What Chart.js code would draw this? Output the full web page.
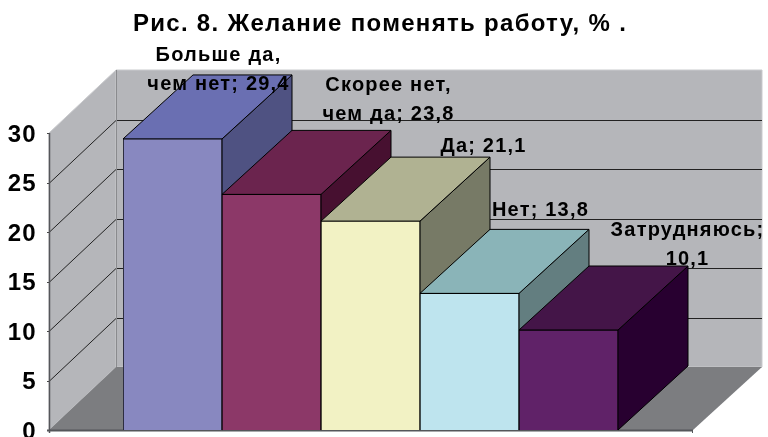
<!DOCTYPE html>
<html>
<head>
<meta charset="utf-8">
<script src="https://cdn.jsdelivr.net/npm/chart.js@4"></script>
<style>
  html, body { margin: 0; padding: 0; background: #fff; }
  canvas { display: block; }
</style>
</head>
<body>
<canvas id="myChart" width="768" height="437"></canvas>
<script>
const categories = ['Больше да, чем нет', 'Скорее нет, чем да', 'Да', 'Нет', 'Затрудняюсь'];
const values = [29.4, 23.8, 21.1, 13.8, 10.1];
const valueLabels = ['29,4', '23,8', '21,1', '13,8', '10,1'];
const titleText = 'Рис. 8. Желание поменять работу, % .';

const frontColors = ['#8888c0', '#8c3868', '#f2f2c4', '#bee4ee', '#602268'];
const topColors = ['#6a6fb2', '#6b244e', '#b0b292', '#8ab4b8', '#441548'];
const sideColors = ['#4f5282', '#471030', '#777a66', '#637e80', '#280030'];

// where each label sits: centre x from the bar centre, last line y from the bar top
const labelOffsets = [[46, -54], [117, -80], [113, -75], [71, -83], [119, -71]];
// how the category and value wrap in the picture
const labelLines = [
  ['Больше да,', 'чем нет; ' + valueLabels[0]],
  ['Скорее нет,', 'чем да; ' + valueLabels[1]],
  [categories[2] + '; ' + valueLabels[2]],
  [categories[3] + '; ' + valueLabels[3]],
  [categories[4] + ';', valueLabels[4]],
];

const wallDepth = { x: 67, y: -63 };
const barDepth = { x: 70, y: -64 };

const poly = (ctx, pts, fill, stroke, lw) => {
  ctx.beginPath();
  pts.forEach((p, i) => (i ? ctx.lineTo(p[0], p[1]) : ctx.moveTo(p[0], p[1])));
  ctx.closePath();
  if (fill) {
    ctx.fillStyle = fill;
    ctx.fill();
  }
  if (stroke) {
    ctx.strokeStyle = stroke;
    ctx.lineWidth = lw || 1;
    ctx.stroke();
  }
};

const line = (ctx, x1, y1, x2, y2, color, lw) => {
  ctx.beginPath();
  ctx.moveTo(x1, y1);
  ctx.lineTo(x2, y2);
  ctx.strokeStyle = color;
  ctx.lineWidth = lw || 1;
  ctx.stroke();
};

// walls, floor and the top and side faces; the fronts are the real bars
const box3d = {
  id: 'box3d',
  beforeDraw(chart) {
    chart.ctx.letterSpacing = '1.3px';
  },
  beforeDatasetsDraw(chart) {
    const { ctx, scales: { x, y } } = chart;
    const y0 = y.getPixelForValue(0);
    const y30 = y.getPixelForValue(30);
    const left = x.left - 74;
    const right = x.right + 75;
    const backLeft = left + wallDepth.x;
    const backRight = right + 69;

    ctx.save();
    poly(ctx, [[backLeft, y30 + wallDepth.y], [backRight, y30 + wallDepth.y], [backRight, y0 + wallDepth.y], [backLeft, y0 + wallDepth.y]], '#b5b6ba', '#c9cacd');
    poly(ctx, [[left, y30], [backLeft, y30 + wallDepth.y], [backLeft, y0 + wallDepth.y], [left, y0]], '#b5b6ba', '#c9cacd');
    poly(ctx, [[left, y0], [right, y0], [backRight, y0 + wallDepth.y], [backLeft, y0 + wallDepth.y]], '#7c7d80');

    y.ticks.forEach((t) => {
      if (t.value === 0) return;
      const py = Math.round(y.getPixelForValue(t.value)) + 0.5;
      if (t.value < 30) {
        line(ctx, left, py, backLeft, py + wallDepth.y, '#222');
        line(ctx, backLeft, py + wallDepth.y, backRight, py + wallDepth.y, '#222');
      }
      line(ctx, left - 2, py, left, py, '#444');
    });
    line(ctx, backLeft + 0.5, y30 + wallDepth.y, backLeft + 0.5, y0 + wallDepth.y, '#8a8b8e');
    line(ctx, left + 0.5, y30, left + 0.5, y0 + 3, '#55565a', 1.5);
    line(ctx, left - 2, y0 + 0.5, right, y0 + 0.5, '#55565a', 2);
    line(ctx, right - 0.5, y0, right - 0.5, y0 + 3, '#55565a');

    chart.getDatasetMeta(0).data.forEach((bar, i) => {
      const l = bar.x - bar.width / 2;
      const r = bar.x + bar.width / 2;
      const t = bar.y;
      const dx = barDepth.x;
      const dy = barDepth.y;
      poly(ctx, [[r, t], [r + dx, t + dy], [r + dx, y0 + dy], [r, y0]], sideColors[i], '#000');
      poly(ctx, [[l, t], [r, t], [r + dx, t + dy], [l + dx, t + dy]], topColors[i], '#000');
    });
    ctx.restore();
  },
  afterDatasetsDraw(chart) {
    const { ctx } = chart;
    ctx.save();
    ctx.font = 'bold 20px "Liberation Sans"';
    ctx.letterSpacing = '1.2px';
    ctx.fillStyle = '#000';
    ctx.textAlign = 'center';
    ctx.textBaseline = 'middle';
    chart.getDatasetMeta(0).data.forEach((bar, i) => {
      const lines = labelLines[i];
      lines.forEach((text, n) => {
        const ly = bar.y + labelOffsets[i][1] - (lines.length - 1 - n) * 29;
        ctx.fillText(text, bar.x + labelOffsets[i][0], ly);
      });
    });
    ctx.restore();
  },
};

new Chart(document.getElementById('myChart').getContext('2d'), {
  type: 'bar',
  data: {
    labels: categories,
    datasets: [{
      data: values,
      backgroundColor: frontColors,
      borderColor: '#000',
      borderWidth: 1,
      barPercentage: 1,
      categoryPercentage: 1,
    }],
  },
  options: {
    responsive: false,
    animation: false,
    layout: { padding: { left: 0, right: 8, top: 0, bottom: 7 } },
    plugins: {
      legend: { display: false },
      tooltip: { enabled: false },
      title: {
        display: true,
        text: titleText,
        color: '#000',
        font: { family: '"Liberation Sans"', size: 24, weight: 'bold', lineHeight: 1.2 },
        padding: { top: 10, bottom: 94.2 },
      },
    },
    scales: {
      x: { display: false },
      y: {
        min: 0,
        max: 30,
        ticks: {
          stepSize: 5,
          color: '#000',
          padding: 86,
          labelOffset: 2,
          font: { family: '"Liberation Sans"', size: 24, weight: 'bold' },
        },
        grid: { display: false, drawTicks: false },
        border: { display: false },
        afterFit(scale) {
          scale.width = 123;
          scale.paddingTop = 0;
          scale.paddingBottom = 0;
        },
      },
      right: {
        position: 'right',
        ticks: { display: false },
        grid: { display: false, drawTicks: false },
        border: { display: false },
        afterFit(scale) {
          scale.width = 142;
          scale.paddingTop = 0;
          scale.paddingBottom = 0;
        },
      },
    },
  },
  plugins: [box3d],
});
</script>
</body>
</html>
